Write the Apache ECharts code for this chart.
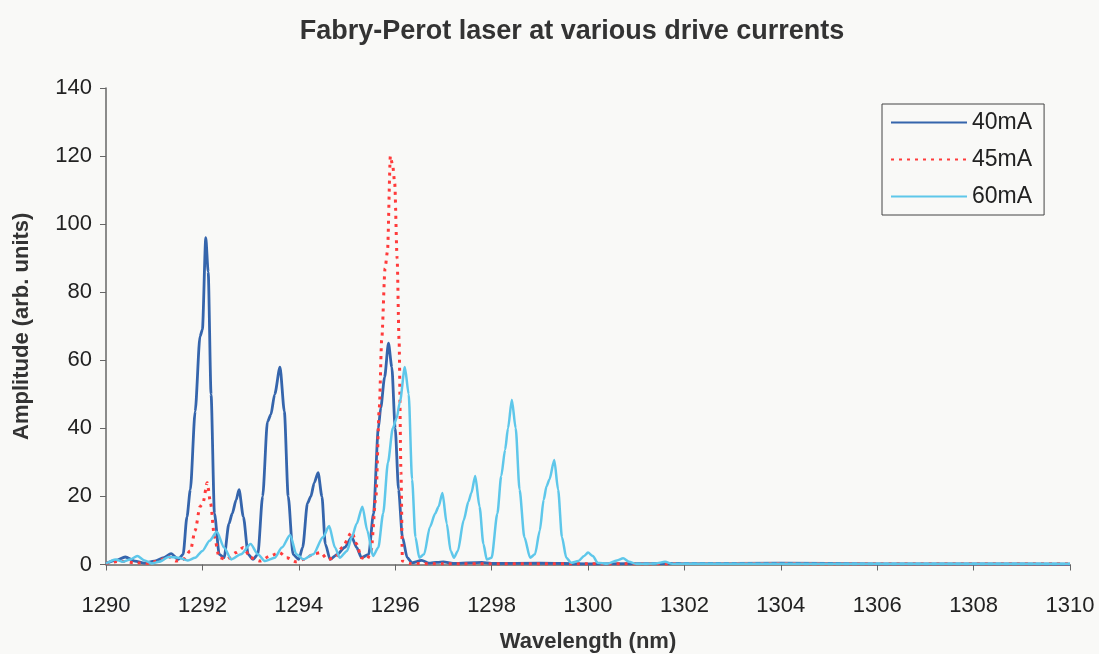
<!DOCTYPE html>
<html>
<head>
<meta charset="utf-8">
<script src="https://cdn.jsdelivr.net/npm/echarts@6/dist/echarts.min.js"></script>
<style>
  html, body { margin: 0; padding: 0; background: #f9f9f7; }
  #chart { width: 1099px; height: 654px; }
</style>
</head>
<body>
<div id="chart"></div>
<script>
// Spectra sampled at the points where each trace changes shape (nm, arb. units)
const wl40 = [1290.0,1290.2,1290.4,1290.6,1290.8,1291.0,1291.2,1291.35,1291.5,1291.6,1291.68,1291.75,1291.85,1291.95,1292.0,1292.07,1292.12,1292.18,1292.25,1292.35,1292.45,1292.55,1292.62,1292.7,1292.76,1292.85,1292.95,1293.05,1293.15,1293.25,1293.35,1293.42,1293.5,1293.61,1293.7,1293.78,1293.88,1294.0,1294.08,1294.18,1294.25,1294.32,1294.4,1294.48,1294.55,1294.65,1294.8,1294.95,1295.1,1295.2,1295.3,1295.45,1295.55,1295.65,1295.7,1295.78,1295.86,1295.93,1296.0,1296.07,1296.15,1296.25,1296.35,1296.55,1296.7,1297.0,1297.2,1297.8,1298.0,1299.0,1300.0,1302.0,1304.0,1306.0,1308.0,1310.0];
const amp40 = [0.3,1.2,2.2,1.0,0.4,1.0,2.0,3.2,1.5,3,14,22,45,67,69,96,86,50,15,3,2,12,15,19,22,14,3,1.5,3,20,42,44,50,58,45,20,3,1.5,5,18,20,24,27,20,6,1.5,3,5,8,5,2,3,15,40,46,55,65,58,40,22,8,2,0.5,1.2,0.4,0.8,0.3,0.6,0.3,0.4,0.2,0.3,0.4,0.2,0.2,0.1];

const wl45 = [1290.0,1290.3,1290.6,1290.9,1291.1,1291.3,1291.45,1291.6,1291.75,1291.85,1291.95,1292.01,1292.1,1292.17,1292.25,1292.35,1292.5,1292.7,1292.85,1293.0,1293.2,1293.4,1293.6,1293.75,1293.95,1294.1,1294.3,1294.45,1294.6,1294.75,1294.9,1295.1,1295.2,1295.3,1295.42,1295.5,1295.6,1295.67,1295.72,1295.79,1295.84,1295.9,1295.95,1295.99,1296.04,1296.08,1296.12,1296.15,1296.3,1297.0,1300.0,1303.0,1306.0,1310.0];
const amp45 = [0.3,1,0.5,0.3,1.2,2.3,1,1.5,4,10,17,18,24,18,8,2,1.5,3.5,5,2,1,2.5,3.5,2,0.8,1.5,3,3.5,1.5,2,5,9.5,6,2,1.5,4,20,46,66,87,92,120,117,112,90,66,27,1,0.3,0.2,0.2,0.3,0.2,0.2];

const wl60 = [1290.0,1290.2,1290.35,1290.5,1290.65,1290.8,1290.95,1291.1,1291.3,1291.5,1291.7,1291.85,1292.0,1292.15,1292.3,1292.45,1292.6,1292.8,1293.0,1293.15,1293.3,1293.5,1293.65,1293.82,1293.95,1294.1,1294.3,1294.5,1294.63,1294.75,1294.85,1295.0,1295.1,1295.2,1295.32,1295.42,1295.54,1295.65,1295.75,1295.85,1295.95,1296.03,1296.1,1296.2,1296.28,1296.35,1296.42,1296.5,1296.6,1296.72,1296.83,1296.9,1296.98,1297.07,1297.15,1297.22,1297.3,1297.42,1297.52,1297.58,1297.66,1297.75,1297.83,1297.9,1298.0,1298.12,1298.2,1298.28,1298.34,1298.42,1298.5,1298.58,1298.68,1298.8,1298.9,1299.0,1299.08,1299.14,1299.2,1299.3,1299.38,1299.46,1299.55,1299.65,1299.8,1299.92,1300.0,1300.1,1300.2,1300.4,1300.6,1300.73,1300.85,1301.0,1301.4,1301.6,1301.75,1302.0,1306.0,1310.0];
const amp60 = [0.3,1.5,0.8,1.5,2.5,1.2,0.3,0.8,2.2,2,1.2,2,4,7,9.6,5,1.5,3,6,3,1,2,5,8.7,3,1.5,3,8,11.3,5,2,4,8,12,17,10,2.5,5,15,30,40,43,48,58,50,25,8,2,3,11,15,17,21,12,4,2,4,13,18.5,21,26,17,6,1.5,2,15,26,33.7,40,48.4,40,22,8,2,3,10,19,23,25,30.7,22,8,2,0.5,1,2.5,3.5,2.5,0.5,0.2,1.2,1.8,0.8,0.2,0.3,0.8,0.2,0.3,0.2,0.2];

const seriesNames = ['40mA', '45mA', '60mA'];
const xTicks = { min: 1290, max: 1310, step: 2 };
const yTicks = { min: 0, max: 140, step: 20 };

const pairs = (xs, ys) => xs.map((x, i) => [x, ys[i]]);

const chart = echarts.init(document.getElementById('chart'), null, { renderer: 'canvas' });
const font = 'Liberation Sans, Arial, sans-serif';
const axisColor = '#666';

chart.setOption({
  backgroundColor: '#f9f9f7',
  animation: false,
  title: {
    text: 'Fabry-Perot laser at various drive currents',
    left: 567, top: 13, textAlign: 'center',
    textStyle: { fontFamily: font, fontSize: 27, fontWeight: 'bold', color: '#333' }
  },
  legend: {
    orient: 'vertical', left: 882, top: 104,
    padding: [7, 12, 7, 8],
    itemWidth: 76, itemHeight: 14, itemGap: 14,
    borderColor: '#444', borderWidth: 1,
    itemStyle: { color: 'rgba(0,0,0,0)', borderWidth: 0, opacity: 0 },
    textStyle: { fontFamily: font, fontSize: 23, color: '#222', lineHeight: 23 },
    data: seriesNames
  },
  grid: { left: 106, right: 29, top: 88, bottom: 89.5, outerBoundsMode: 'none', containLabel: false },
  xAxis: {
    type: 'value', min: xTicks.min, max: xTicks.max, interval: xTicks.step,
    name: 'Wavelength (nm)', nameLocation: 'middle', nameGap: 66,
    nameTextStyle: { fontFamily: font, fontSize: 22, fontWeight: 'bold', color: '#333' },
    axisLine: { show: true, lineStyle: { color: axisColor, width: 1.5 } },
    axisTick: { show: true, length: 6, lineStyle: { color: axisColor } },
    axisLabel: { margin: 30, fontFamily: font, fontSize: 22, color: '#222', formatter: v => String(v) },
    splitLine: { show: false }
  },
  yAxis: {
    type: 'value', min: yTicks.min, max: yTicks.max, interval: yTicks.step,
    name: 'Amplitude (arb. units)', nameLocation: 'middle', nameGap: 73,
    nameTextStyle: { fontFamily: font, fontSize: 22, fontWeight: 'bold', color: '#333' },
    axisLine: { show: true, lineStyle: { color: axisColor, width: 1.5 } },
    axisTick: { show: true, length: 6, lineStyle: { color: axisColor } },
    axisLabel: { margin: 14, fontFamily: font, fontSize: 22, color: '#222', formatter: v => String(v) },
    splitLine: { show: false }
  },
  series: [
    {
      name: seriesNames[0], type: 'line', data: pairs(wl40, amp40),
      symbol: 'none', smooth: 0.25, smoothMonotone: 'x',
      lineStyle: { color: '#3565ac', width: 2.8 }, itemStyle: { color: '#3565ac' }
    },
    {
      name: seriesNames[1], type: 'line', data: pairs(wl45, amp45),
      symbol: 'none', smooth: 0.25, smoothMonotone: 'x',
      lineStyle: { color: '#ff3b3b', width: 3, type: [3, 5] }, itemStyle: { color: '#ff3b3b' }
    },
    {
      name: seriesNames[2], type: 'line', data: pairs(wl60, amp60),
      symbol: 'none', smooth: 0.25, smoothMonotone: 'x',
      lineStyle: { color: '#5ec7ea', width: 2.5 }, itemStyle: { color: '#5ec7ea' }
    }
  ]
});
</script>
</body>
</html>
